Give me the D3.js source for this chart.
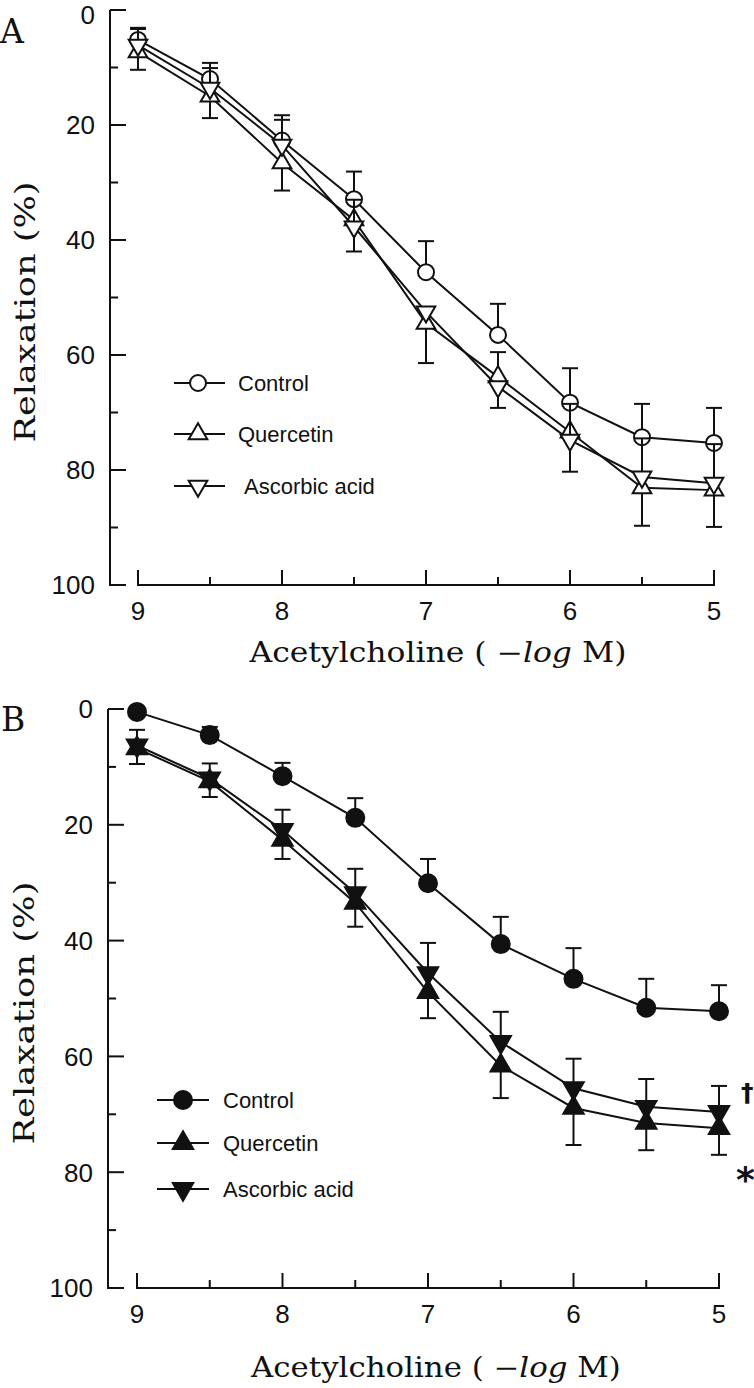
<!DOCTYPE html>
<html>
<head>
<meta charset="utf-8">
<script src="https://cdn.jsdelivr.net/npm/d3@7"></script>
<style>
  html, body { margin: 0; padding: 0; background: #fff; }
  svg { display: block; }
</style>
</head>
<body>
<svg id="chart" width="754" height="1388"></svg>
<script>
// ---------------- DATA ----------------
const concentrations = [9, 8.5, 8, 7.5, 7, 6.5, 6, 5.5, 5];   // -log M
const xTickValues = [9, 8, 7, 6, 5];
const xMinorTicks = [8.5, 7.5, 6.5, 5.5];
const yTickValues = [0, 20, 40, 60, 80, 100];
const yMinorTicks = [10, 30, 50, 70, 90];
const seriesNames = ["Control", "Quercetin", "Ascorbic acid"];
const panelLabels = ["A", "B"];
const xAxisTitle = ["Acetylcholine ( \u2212", "log", " M)"];
const yAxisTitle = "Relaxation (%)";

// Panel A (open symbols)
const controlA        = [5.2, 12.0, 22.7, 32.9, 45.6, 56.5, 68.3, 74.3, 75.3];
const controlA_errUp  = [2.1, 2.8, 4.4, 4.8, 5.4, 5.4, 6.0, 5.8, 6.1];
const controlA_errDn  = [0, 0, 0, 0, 0, 0, 0, 0, 0];
const quercetinA       = [7.3, 15.0, 26.6, 36.5, 54.5, 63.8, 73.4, 83.1, 83.5];
const quercetinA_errUp = [0, 0, 0, 0, 0, 4.3, 0, 0, 0];
const quercetinA_errDn = [3.1, 3.8, 4.8, 0, 6.9, 0, 0, 6.6, 6.4];
const ascorbicA       = [6.1, 13.6, 23.5, 37.7, 52.5, 65.5, 74.8, 81.2, 82.3];
const ascorbicA_errUp = [2.8, 3.5, 4.4, 4.7, 0, 0, 6.3, 6.7, 6.8];
const ascorbicA_errDn = [0, 0, 0, 4.3, 0, 3.7, 5.5, 0, 0];

// Panel B (filled symbols)
const controlB        = [0.5, 4.5, 11.6, 18.8, 30.1, 40.6, 46.6, 51.6, 52.2];
const controlB_errUp  = [0, 1.4, 2.3, 3.4, 4.2, 4.7, 5.3, 5.0, 4.5];
const controlB_errDn  = [0, 0, 0, 0, 0, 0, 0, 0, 0];
const quercetinB       = [6.8, 12.5, 22.6, 33.5, 48.9, 61.6, 68.9, 71.5, 72.4];
const quercetinB_errUp = [0, 0, 0, 0, 0, 0, 0, 0, 0];
const quercetinB_errDn = [2.7, 2.7, 3.3, 4.1, 4.5, 5.6, 6.4, 4.7, 4.6];
const ascorbicB       = [6.3, 12.0, 20.9, 31.8, 45.6, 57.5, 65.5, 68.7, 69.6];
const ascorbicB_errUp = [2.7, 2.6, 3.5, 4.2, 5.2, 5.2, 5.1, 4.8, 4.5];
const ascorbicB_errDn = [0, 0, 0, 0, 0, 0, 0, 0, 0];

// significance marks at the end of panel B curves
const sigMarks = ["\u2020", "*"];
const sigValues = [66.2, 77.5];

// ---------------- DRAW ----------------
const svg = d3.select("#chart");
const black = "#111";
const sansFont = "'Liberation Sans', Arial, sans-serif";
const serifFont = "'DejaVu Serif', serif";

const panels = [
  { label: panelLabels[0], filled: false,
    series: [
      { name: seriesNames[0], shape: "circle", y: controlA, up: controlA_errUp, dn: controlA_errDn },
      { name: seriesNames[1], shape: "up", y: quercetinA, up: quercetinA_errUp, dn: quercetinA_errDn },
      { name: seriesNames[2], shape: "down", y: ascorbicA, up: ascorbicA_errUp, dn: ascorbicA_errDn }
    ],
    x0: 138, x1: 714, y0: 10, y1: 585, axisX: 110,
    labelPos: [0, 43], yTitleX: 35, yTitleY: 312, yTitleLen: 261,
    xTitleX: 438, xTitleY: 662, xTitleLen: 377,
    legX0: 174, legX1: 225, legMx: 198, legTx: [238, 238, 244], legY: [383, 434, 486],
    r: 8, tri: 150 },
  { label: panelLabels[1], filled: true,
    series: [
      { name: seriesNames[0], shape: "circle", y: controlB, up: controlB_errUp, dn: controlB_errDn },
      { name: seriesNames[1], shape: "up", y: quercetinB, up: quercetinB_errUp, dn: quercetinB_errDn },
      { name: seriesNames[2], shape: "down", y: ascorbicB, up: ascorbicB_errUp, dn: ascorbicB_errDn }
    ],
    x0: 137, x1: 719, y0: 709, y1: 1288, axisX: 108,
    labelPos: [1, 731], yTitleX: 34, yTitleY: 1013, yTitleLen: 263,
    xTitleX: 436, xTitleY: 1377, xTitleLen: 370,
    legX0: 157, legX1: 209, legMx: 183, legTx: [223, 223, 223], legY: [1100, 1143, 1189],
    r: 9, tri: 180 }
];

function symbolPath(size) {
  return d3.symbol().type(d3.symbolTriangle).size(size)();
}

panels.forEach((P, pi) => {
  const g = svg.append("g");
  const x = d3.scaleLinear().domain([9, 5]).range([P.x0, P.x1]);
  const y = d3.scaleLinear().domain([0, 100]).range([P.y0, P.y1]);
  const axisY = y(100);

  // Y axis (ticks inward)
  g.append("line").attr("x1", P.axisX).attr("x2", P.axisX)
    .attr("y1", y(0)).attr("y2", axisY + 1)
    .attr("stroke", black).attr("stroke-width", 2);
  yTickValues.forEach(v => {
    g.append("line").attr("x1", P.axisX).attr("x2", P.axisX + 16)
      .attr("y1", y(v)).attr("y2", y(v)).attr("stroke", black).attr("stroke-width", 2);
    g.append("text").attr("x", P.axisX - 15).attr("y", Math.max(y(v), 15)).attr("dy", "0.36em")
      .attr("text-anchor", "end").attr("font-family", sansFont).attr("font-size", 26)
      .attr("fill", black).text(v);
  });
  yMinorTicks.forEach(v => {
    g.append("line").attr("x1", P.axisX).attr("x2", P.axisX + 8)
      .attr("y1", y(v)).attr("y2", y(v)).attr("stroke", black).attr("stroke-width", 2);
  });

  // X axis (ticks inward)
  g.append("line").attr("x1", x(9) - 1).attr("x2", x(5) + 1)
    .attr("y1", axisY).attr("y2", axisY).attr("stroke", black).attr("stroke-width", 2);
  xTickValues.forEach(v => {
    g.append("line").attr("x1", x(v)).attr("x2", x(v))
      .attr("y1", axisY).attr("y2", axisY - 15).attr("stroke", black).attr("stroke-width", 2);
    g.append("text").attr("x", x(v)).attr("y", axisY + 35)
      .attr("text-anchor", "middle").attr("font-family", sansFont).attr("font-size", 26)
      .attr("fill", black).text(v);
  });
  xMinorTicks.forEach(v => {
    g.append("line").attr("x1", x(v)).attr("x2", x(v))
      .attr("y1", axisY).attr("y2", axisY - 8).attr("stroke", black).attr("stroke-width", 2);
  });

  // panel label
  g.append("text").attr("x", P.labelPos[0]).attr("y", P.labelPos[1])
    .attr("font-family", serifFont).attr("font-size", 33)
    .attr("fill", black).text(P.label);

  // Y title
  g.append("text")
    .attr("transform", `translate(${P.yTitleX},${P.yTitleY}) rotate(-90)`)
    .attr("text-anchor", "middle").attr("font-family", serifFont).attr("font-size", 27)
    .attr("fill", black).attr("textLength", P.yTitleLen).attr("lengthAdjust", "spacingAndGlyphs")
    .text(yAxisTitle);

  // X title
  const xt = g.append("text").attr("font-family", serifFont).attr("font-size", 27)
    .attr("fill", black);
  xt.append("tspan").text(xAxisTitle[0]);
  xt.append("tspan").attr("font-style", "italic").text(xAxisTitle[1]);
  xt.append("tspan").text(xAxisTitle[2]);
  const len = xt.node().getComputedTextLength();
  const sx = P.xTitleLen / len;
  xt.attr("transform", `translate(${P.xTitleX - P.xTitleLen / 2},${P.xTitleY}) scale(${sx},1)`);

  // data
  const fill = P.filled ? black : "#fff";
  const line = d3.line().x((d, i) => x(concentrations[i])).y(d => y(d));

  function drawMarker(sel, shape, cx, cy) {
    if (shape === "circle") {
      sel.append("circle").attr("cx", cx).attr("cy", cy).attr("r", P.r)
        .attr("fill", fill).attr("stroke", black).attr("stroke-width", 2);
    } else {
      sel.append("path").attr("d", symbolPath(P.tri))
        .attr("transform", `translate(${cx},${cy})` + (shape === "down" ? " rotate(180)" : ""))
        .attr("fill", fill).attr("stroke", black).attr("stroke-width", 2)
        .attr("stroke-linejoin", "miter");
    }
  }

  P.series.forEach(s => {
    const sg = g.append("g");
    // error bars
    s.y.forEach((v, i) => {
      const cx = x(concentrations[i]);
      [[s.up[i], -1], [s.dn[i], 1]].forEach(([e, dir]) => {
        if (!e) return;
        const ey = y(v + dir * e);
        sg.append("line").attr("x1", cx).attr("x2", cx).attr("y1", y(v)).attr("y2", ey)
          .attr("stroke", black).attr("stroke-width", 2);
        sg.append("line").attr("x1", cx - 8).attr("x2", cx + 8).attr("y1", ey).attr("y2", ey)
          .attr("stroke", black).attr("stroke-width", 2);
      });
    });
    sg.append("path").attr("d", line(s.y)).attr("fill", "none")
      .attr("stroke", black).attr("stroke-width", 2);
    s.y.forEach((v, i) => drawMarker(sg, s.shape, x(concentrations[i]), y(v)));
  });

  // legend
  P.series.forEach((s, i) => {
    const ly = P.legY[i];
    g.append("line").attr("x1", P.legX0).attr("x2", P.legX1).attr("y1", ly).attr("y2", ly)
      .attr("stroke", black).attr("stroke-width", 2);
    drawMarker(g, s.shape, P.legMx, ly);
    g.append("text").attr("x", P.legTx[i]).attr("y", ly).attr("dy", "0.36em")
      .attr("font-family", sansFont).attr("font-size", 22).attr("fill", black).text(s.name);
  });

  // significance marks (panel B)
  if (P.filled) {
    g.append("text").attr("x", x(5) + 22).attr("y", y(sigValues[0])).attr("dy", "0.35em")
      .attr("font-family", "'DejaVu Sans', sans-serif").attr("font-weight", "bold")
      .attr("font-size", 25).attr("fill", black).text(sigMarks[0]);
    g.append("text").attr("x", x(5) + 17).attr("y", y(sigValues[1])).attr("dy", "0.95em")
      .attr("font-family", "'DejaVu Sans', sans-serif").attr("font-weight", "bold")
      .attr("font-size", 36).attr("fill", black).text(sigMarks[1]);
  }
});
</script>
</body>
</html>
